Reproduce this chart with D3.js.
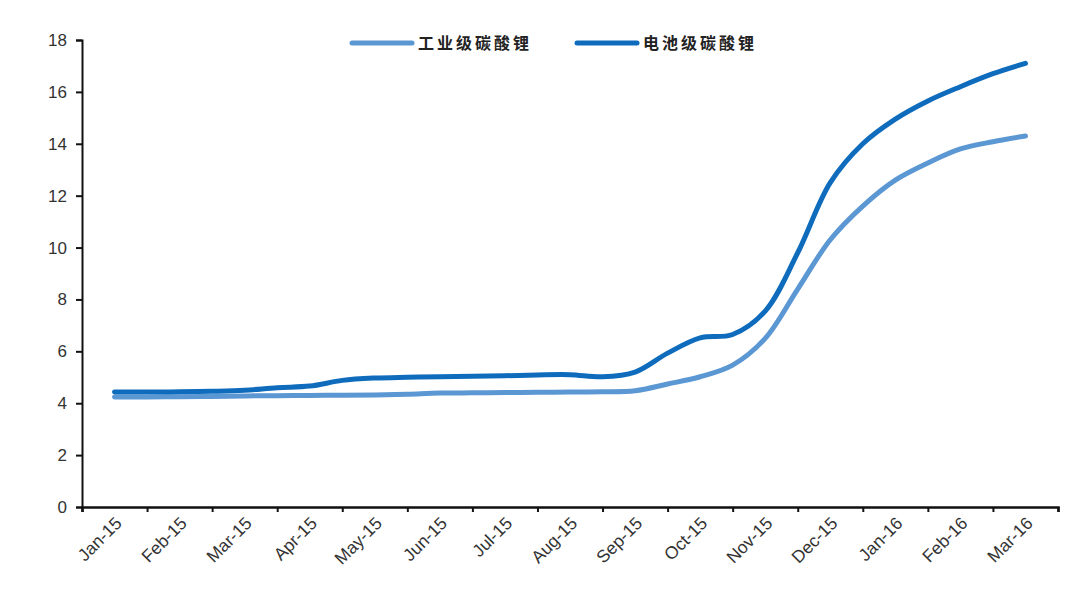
<!DOCTYPE html>
<html>
<head>
<meta charset="utf-8">
<script src="https://cdn.jsdelivr.net/npm/d3@7"></script>
<style>
  body { margin: 0; background: #fff; }
  text { font-family: "Liberation Sans", Arial, sans-serif; }
</style>
</head>
<body>
<div id="chart"></div>
<script>
// month categories (labels on the x axis)
var months = ["Jan-15", "Feb-15", "Mar-15", "Apr-15", "May-15", "Jun-15", "Jul-15",
  "Aug-15", "Sep-15", "Oct-15", "Nov-15", "Dec-15", "Jan-16", "Feb-16", "Mar-16"];

// readings taken every half month (0 = mid Jan-15, 0.5 = start of Feb-15 ...)
var steps = d3.range(0, 14.01, 0.5);

// 工业级碳酸锂 (industrial grade)
var industrial = [4.24, 4.24, 4.25, 4.26, 4.28, 4.29, 4.30, 4.31, 4.32, 4.35, 4.39, 4.40, 4.41, 4.42, 4.43,
  4.44, 4.48, 4.74, 5.02, 5.47, 6.5, 8.4, 10.3, 11.6, 12.6, 13.26, 13.8, 14.08, 14.3];

// 电池级碳酸锂 (battery grade)
var battery = [4.43, 4.43, 4.44, 4.46, 4.50, 4.60, 4.66, 4.88, 4.97, 5.0, 5.02, 5.04, 5.06, 5.09, 5.10,
  5.02, 5.2, 5.93, 6.52, 6.65, 7.55, 9.8, 12.5, 14.0, 14.95, 15.65, 16.2, 16.7, 17.1];

var yTicks = d3.range(0, 19, 2);

var series = [
  { name: "工业级碳酸锂", values: industrial, color: "#5b97d3" },
  { name: "电池级碳酸锂", values: battery, color: "#0f6cbd" }
];

var width = 1092, height = 592;
var margin = { top: 40, right: 34, bottom: 85, left: 82 };
var w = width - margin.left - margin.right;
var h = height - margin.top - margin.bottom;

var svg = d3.select("#chart").append("svg")
  .attr("width", width)
  .attr("height", height);

var g = svg.append("g").attr("transform", "translate(" + margin.left + "," + margin.top + ")");

var x = d3.scaleLinear().domain([-0.5, months.length - 0.5]).range([0, w]);
var band = d3.scaleBand().domain(months).range([0, w]).padding(0);
var y = d3.scaleLinear().domain([0, 18]).range([h, 0]);

// lines
var line = d3.line()
  .x(function(d, i) { return x(steps[i]); })
  .y(function(d) { return y(d); })
  .curve(d3.curveCatmullRom.alpha(0.5));

g.selectAll("path.series")
  .data(series)
  .enter()
  .append("path")
  .attr("class", "series")
  .attr("d", function(s) { return line(s.values); })
  .attr("fill", "none")
  .attr("stroke", function(s) { return s.color; })
  .attr("stroke-width", 5)
  .attr("stroke-linecap", "round")
  .attr("stroke-linejoin", "round");

// y axis
var yAxis = g.append("g")
  .call(d3.axisLeft(y).tickValues(yTicks).tickSize(6).tickPadding(9));
yAxis.select(".domain").attr("stroke", "#111").attr("stroke-width", 2);
yAxis.selectAll(".tick line").attr("stroke", "#111").attr("stroke-width", 2);
yAxis.selectAll(".tick text")
  .attr("font-size", 17)
  .attr("fill", "#333")
  .style("font-family", "'Liberation Sans', Arial, sans-serif");

// x axis: tick marks at month boundaries
var xAxis = g.append("g")
  .attr("transform", "translate(0," + h + ")")
  .call(d3.axisBottom(x).tickValues(d3.range(-0.5, months.length, 1)).tickSize(5).tickFormat(""));
xAxis.select(".domain").attr("stroke", "#111").attr("stroke-width", 2.5);
xAxis.selectAll(".tick line").attr("stroke", "#111").attr("stroke-width", 2);

// x labels centered in each month, rotated
g.append("g")
  .selectAll("text")
  .data(months)
  .enter()
  .append("text")
  .attr("transform", function(d) {
    return "translate(" + (band(d) + band.bandwidth() / 2 + 4) + "," + (h + 13) + ") rotate(-45)";
  })
  .attr("text-anchor", "end")
  .attr("dy", "0.35em")
  .attr("font-size", 17.5)
  .attr("fill", "#333")
  .text(function(d) { return d; });

// legend
var legendX = [352, 577];
var legend = svg.selectAll("g.legend")
  .data(series)
  .enter()
  .append("g")
  .attr("class", "legend")
  .attr("transform", function(s, i) { return "translate(" + legendX[i] + ",43)"; });

legend.append("line")
  .attr("x1", 0).attr("x2", 60)
  .attr("stroke", function(s) { return s.color; })
  .attr("stroke-width", 5)
  .attr("stroke-linecap", "round");

legend.append("text")
  .attr("x", 66)
  .attr("dy", "0.36em")
  .attr("font-size", 16)
  .attr("font-weight", "bold")
  .attr("letter-spacing", 3)
  .attr("fill", "#222")
  .style("font-family", "'Noto Sans CJK SC', sans-serif")
  .text(function(s) { return s.name; });
</script>
</body>
</html>
